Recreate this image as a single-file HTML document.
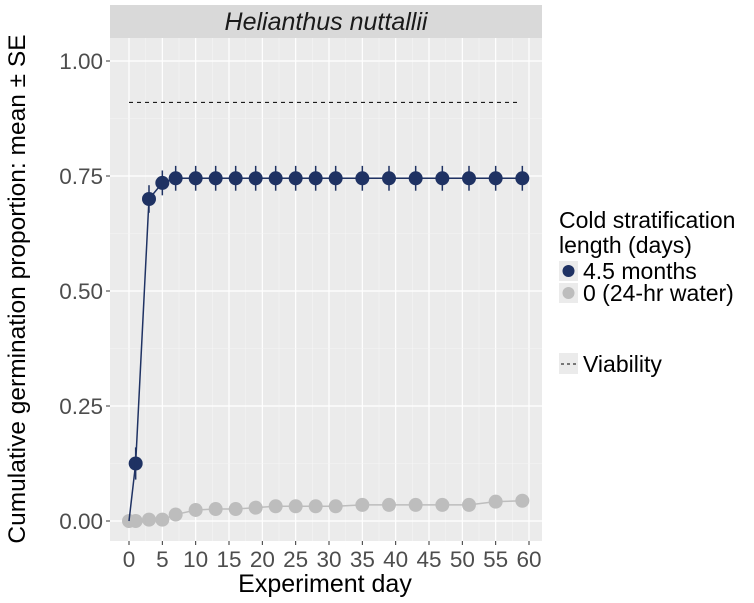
<!DOCTYPE html>
<html><head><meta charset="utf-8"><style>
body{margin:0;background:#fff;}
svg{display:block;font-family:"Liberation Sans",Arial,sans-serif;}
</style></head><body>
<svg id="chart" width="754" height="603" viewBox="0 0 754 603">
<rect x="110" y="5" width="432" height="33" fill="#d9d9d9"/>
<text x="326" y="30" text-anchor="middle" font-size="25" font-style="italic" fill="#1a1a1a">Helianthus nuttallii</text>
<rect x="110" y="38" width="432" height="503" fill="#ebebeb"/>
<g id="grid"></g><g id="marks"></g><g id="axes"></g>
<text transform="translate(25,289) rotate(-90)" text-anchor="middle" font-size="24.5" fill="#000">Cumulative germination proportion: mean ± SE</text>
<text x="325" y="592" text-anchor="middle" font-size="25" fill="#000">Experiment day</text>
<g>
<text x="559" y="228" font-size="23" fill="#000">Cold stratification</text>
<text x="559" y="253" font-size="23" fill="#000">length (days)</text>
<rect x="559" y="261" width="19" height="20" fill="#ebebeb"/>
<circle cx="568.5" cy="271" r="6" fill="#1f3263"/>
<text x="583" y="279" font-size="23" fill="#000">4.5 months</text>
<rect x="559" y="283" width="19" height="20" fill="#ebebeb"/>
<circle cx="568.5" cy="293" r="6" fill="#bdbdbd"/>
<text x="583" y="301" font-size="23" fill="#000">0 (24-hr water)</text>
<rect x="559" y="353" width="19" height="21" fill="#ebebeb"/>
<line x1="561" y1="364" x2="577" y2="364" stroke="#000" stroke-width="1" stroke-dasharray="3,3"/>
<text x="583" y="372" font-size="23" fill="#000">Viability</text>
</g>
</svg>
<script>
const days=[0,1,3,5,7,10,13,16,19,22,25,28,31,35,39,43,47,51,55,59];
const coldMean=[0,0.125,0.70,0.735,0.745,0.745,0.745,0.745,0.745,0.745,0.745,0.745,0.745,0.745,0.745,0.745,0.745,0.745,0.745,0.745];
const coldSE=[0,0.035,0.03,0.027,0.027,0.027,0.027,0.027,0.027,0.027,0.027,0.027,0.027,0.027,0.027,0.027,0.027,0.027,0.027,0.027];
const waterMean=[0,0,0.003,0.003,0.014,0.024,0.026,0.026,0.029,0.032,0.032,0.032,0.032,0.035,0.035,0.035,0.035,0.035,0.042,0.044];
const viability=[0.91];
const viabilityRange=[0,58.5];
const xTicks=[0,5,10,15,20,25,30,35,40,45,50,55,60];
const yTicks=[0,0.25,0.5,0.75,1.0];
const yTickLabels=["0.00","0.25","0.50","0.75","1.00"];

const X=d=>129+d*(400/60);
const Y=v=>521-v*460;
const NS="http://www.w3.org/2000/svg";
function mk(parent,tag,attrs){const e=document.createElementNS(NS,tag);for(const k in attrs)e.setAttribute(k,attrs[k]);parent.appendChild(e);return e;}
const grid=document.getElementById('grid'),marks=document.getElementById('marks'),axes=document.getElementById('axes');
for(let i=0;i<xTicks.length;i++){
  const t=xTicks[i];
  if(i<xTicks.length-1){const m=mk(grid,'line',{x1:X(t+2.5),x2:X(t+2.5),y1:38,y2:541,stroke:'#f5f5f5','stroke-width':0.6});
  
  }
  const g=mk(grid,'line',{x1:X(t),x2:X(t),y1:38,y2:541,stroke:'#fff','stroke-width':1.2});
  
  
  const tk=mk(axes,'line',{x1:X(t),x2:X(t),y1:541,y2:545,stroke:'#333'});
  
  
  const tl=mk(axes,'text',{x:X(t),y:567,'text-anchor':'middle','font-size':22.5,fill:'#4d4d4d'});
  tl.textContent=t;
  
  
}
for(let i=0;i<yTicks.length;i++){
  const v=yTicks[i];
  if(i<yTicks.length-1){const m=mk(grid,'line',{x1:110,x2:542,y1:Y(v+0.125),y2:Y(v+0.125),stroke:'#f5f5f5','stroke-width':0.6});
  
  }
  const g=mk(grid,'line',{x1:110,x2:542,y1:Y(v),y2:Y(v),stroke:'#fff','stroke-width':1.2});
  
  
  const tk=mk(axes,'line',{x1:106,x2:110,y1:Y(v),y2:Y(v),stroke:'#333'});
  
  
  const tl=mk(axes,'text',{x:103,y:Y(v)+8,'text-anchor':'end','font-size':22.5,fill:'#4d4d4d'});
  tl.textContent=yTickLabels[i];
  
  
}
const vl=mk(marks,'line',{x1:X(viabilityRange[0]),x2:X(viabilityRange[1]),y1:Y(viability[0]),y2:Y(viability[0]),stroke:'#000','stroke-width':1,'stroke-dasharray':'4,4'});


const wl=mk(marks,'polyline',{points:days.map((d,i)=>X(d)+','+Y(waterMean[i])).join(' '),fill:'none',stroke:'#bdbdbd','stroke-width':1.5});


days.forEach((d,i)=>{
  const c=mk(marks,'circle',{cx:X(d),cy:Y(waterMean[i]),r:7,fill:'#bdbdbd'});
  
  
});
const cl=mk(marks,'polyline',{points:days.map((d,i)=>X(d)+','+Y(coldMean[i])).join(' '),fill:'none',stroke:'#1f3263','stroke-width':1.5});


days.forEach((d,i)=>{
  if(i>0){const c=mk(marks,'circle',{cx:X(d),cy:Y(coldMean[i]),r:7,fill:'#1f3263'});
  
  }
  const e=mk(marks,'line',{x1:X(d),x2:X(d),y1:Y(coldMean[i]+coldSE[i]),y2:Y(coldMean[i]-coldSE[i]),stroke:'#1f3263','stroke-width':1.5});
  
  
});
</script>
</body></html>
